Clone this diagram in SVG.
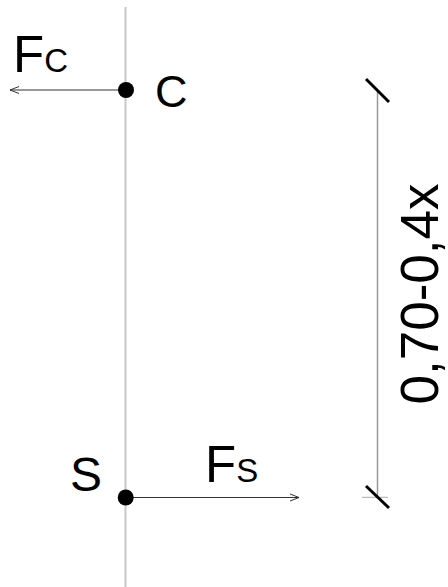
<svg xmlns="http://www.w3.org/2000/svg" width="448" height="587" viewBox="0 0 448 587">
<style>
text{font-family:"Liberation Sans",Arial,sans-serif;fill:#000}
.axis{stroke:#c8c8c8;stroke-width:2;fill:none}
.force{stroke:#333;stroke-width:1.2;fill:none}
.dim{stroke:#999;stroke-width:1.5;fill:none}
.ext{stroke:#aaa;stroke-width:1;fill:none}
.tick{stroke:#000;stroke-width:3;fill:none}
</style>
<defs>
<marker id="open" viewBox="0 0 10 10" refX="10" refY="5" markerWidth="10" markerHeight="10" markerUnits="userSpaceOnUse" orient="auto">
<path d="M1,1.5 L10,5 L1,8.5" stroke="#333" stroke-width="1" fill="none"/>
</marker>
</defs>
<rect width="448" height="587" fill="#fff"/>
<g id="connectors">
<line class="axis" x1="125.5" y1="7" x2="125.5" y2="587"/>
<line class="force" x1="125" y1="90" x2="10" y2="90" marker-end="url(#open)"/>
<line class="force" x1="126" y1="497.5" x2="299" y2="497.5" marker-end="url(#open)"/>
</g>
<g id="node-C">
<circle cx="126" cy="90" r="8" fill="#000"/>
<text x="155" y="107" font-size="45">C</text>
</g>
<g id="node-S">
<circle cx="125.7" cy="497.5" r="8" fill="#000"/>
<text x="70" y="491" font-size="48">S</text>
</g>
<g id="label-Fc">
<text x="13" y="72" font-size="51">F<tspan font-size="33">C</tspan></text>
</g>
<g id="label-Fs">
<text x="205" y="482" font-size="51">F<tspan font-size="33">S</tspan></text>
</g>
<g id="dimension">
<line class="dim" x1="377.5" y1="90.5" x2="377.5" y2="497"/>
<line class="ext" x1="362" y1="497.3" x2="388" y2="497.3"/>
<line class="tick" x1="366" y1="79" x2="389" y2="102"/>
<line class="tick" x1="366" y1="486" x2="389" y2="508"/>
<text transform="translate(438 294) rotate(-90)" text-anchor="middle" font-size="53">0,70-0,4x</text>
</g>
</svg>
